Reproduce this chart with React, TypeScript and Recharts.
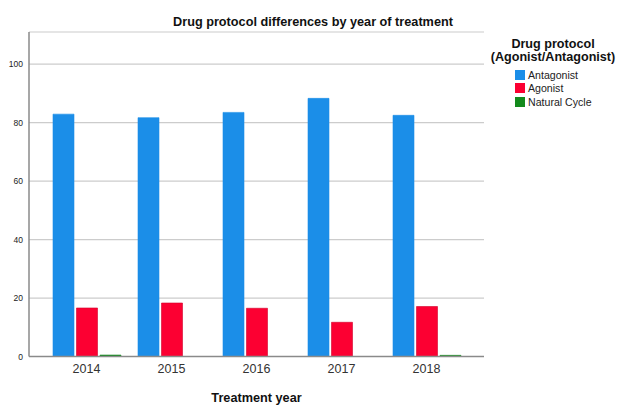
import React from "react";
import { BarChart, Bar, XAxis, YAxis, CartesianGrid } from "recharts";

const years = ["2014", "2015", "2016", "2017", "2018"];
const antagonist = [82.9, 81.7, 83.5, 88.3, 82.5];
const agonist = [16.6, 18.3, 16.5, 11.7, 17.1];
const naturalCycle = [0.5, 0, 0, 0, 0.4];
const yTicks = [0, 20, 40, 60, 80, 100];

const series = [
    { key: "antagonist", name: "Antagonist", color: "#1b8ee8", stroke: "#1b8ee8" },
    { key: "agonist", name: "Agonist", color: "#fc0032", stroke: "#d4002a" },
    { key: "natural", name: "Natural Cycle", color: "#138a1c", stroke: "#138a1c" },
];

const data = years.map((year, i) => ({
    year,
    antagonist: antagonist[i],
    agonist: agonist[i],
    natural: naturalCycle[i],
}));

const FONT = "'Liberation Sans', Arial, sans-serif";

export default function App() {
    return (
        <div style={{ position: "relative", width: 625, height: 407, fontFamily: FONT, background: "#fff" }}>
            <style>{`body{margin:0;}`}</style>
            <div
                style={{
                    position: "absolute",
                    top: 14,
                    left: 0,
                    width: 626,
                    textAlign: "center",
                    fontSize: 12.7,
                    fontWeight: "bold",
                    color: "#111",
                    lineHeight: "16px",
                }}
            >
                Drug protocol differences by year of treatment
            </div>
            <div style={{ position: "absolute", left: 488, top: 38, width: 130, color: "#111" }}>
                <div style={{ textAlign: "center", fontSize: 12.6, fontWeight: "bold", lineHeight: "13px" }}>
                    Drug protocol
                    <br />
                    (Agonist/Antagonist)
                </div>
                <div style={{ marginTop: 4, marginLeft: 27 }}>
                    {series.map((s) => (
                        <div
                            key={s.key}
                            style={{ display: "flex", alignItems: "center", height: 13.5, fontSize: 10.6, color: "#222" }}
                        >
                            <span
                                style={{
                                    display: "inline-block",
                                    width: 10,
                                    height: 10,
                                    background: s.color,
                                    marginRight: 3,
                                }}
                            />
                            {s.name}
                        </div>
                    ))}
                </div>
            </div>
            <BarChart
                width={625}
                height={407}
                data={data}
                margin={{ top: 32, right: 141, left: 0, bottom: 0.5 }}
                barSize={21}
                barGap={2.5}
            >
                <CartesianGrid vertical={false} stroke="#cccccc" strokeWidth={1.2} />
                <XAxis
                    dataKey="year"
                    height={50}
                    padding={{ left: 15, right: 15 }}
                    stroke="#8a8a8a"
                    strokeWidth={1.5}
                    tickLine={false}
                    tickSize={6}
                    tickMargin={2}
                    tick={{ fill: "#333", fontSize: 12.5, fontFamily: FONT }}
                    label={{
                        value: "Treatment year",
                        position: "insideBottom",
                        offset: 5,
                        fill: "#111",
                        fontSize: 12.7,
                        fontWeight: "bold",
                        fontFamily: FONT,
                    }}
                />
                <YAxis
                    width={29}
                    domain={[0, 111]}
                    ticks={yTicks}
                    allowDataOverflow
                    stroke="#8a8a8a"
                    strokeWidth={1.5}
                    tickLine={false}
                    tickSize={4}
                    tickMargin={2}
                    tick={{ fill: "#222", fontSize: 8.5, fontFamily: FONT }}
                />
                {series.map((s) => (
                    <Bar
                        key={s.key}
                        dataKey={s.key}
                        name={s.name}
                        fill={s.color}
                        stroke={s.stroke}
                        strokeWidth={0.6}
                        isAnimationActive={false}
                    />
                ))}
            </BarChart>
        </div>
    );
}
